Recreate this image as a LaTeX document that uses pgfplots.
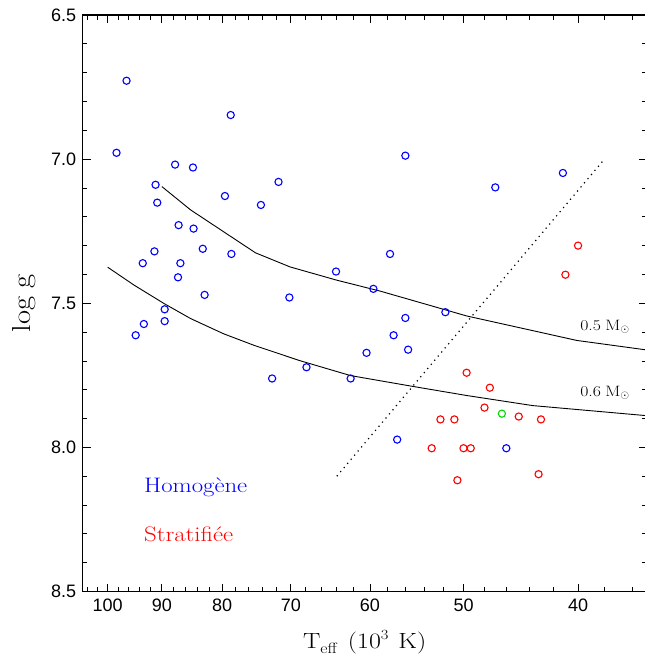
\documentclass[border=0pt]{standalone}
\usepackage{fontspec}
\usepackage{pgfplots}
\pgfplotsset{compat=1.18}
\newfontfamily\hers{lmroman17-regular.otf}[FakeStretch=1.18]
\newfontfamily\ticksf{Liberation Sans}
\definecolor{pblue}{rgb}{0,0,1}
\definecolor{pred}{rgb}{1,0,0}
\definecolor{pgreen}{rgb}{0,0.85,0}
\begin{document}
\begin{tikzpicture}
\begin{axis}[
  name=ax,
  scale only axis,
  width=564pt, height=576.5pt,
  xmode=log, x dir=reverse,
  xmin=35, xmax=105,
  ymin=6.5, ymax=8.5, y dir=reverse,
  xtick={40,50,60,70,80,90,100},
  xticklabels={40,50,60,70,80,90,100},
  minor xtick={36,38,42,44,46,48,52,54,56,58,62,64,66,68,72,74,76,78,82,84,86,88,92,94,96,98,102,104},
  ytick={6.5,7.0,7.5,8.0,8.5},
  yticklabels={6.5,7.0,7.5,8.0,8.5},
  minor ytick={6.6,6.7,6.8,6.9,7.1,7.2,7.3,7.4,7.6,7.7,7.8,7.9,8.1,8.2,8.3,8.4},
  tick align=inside,
  major tick length=8pt, minor tick length=4.5pt,
  every tick/.style={black, line width=0.8pt},
  axis line style={line width=1.6pt},
  /pgf/number format/assume math mode=true,
  tick label style={font=\fontsize{18}{21}\selectfont\ticksf},
  yticklabel style={xshift=-3pt},
  xticklabel style={yshift=-4pt},
  xlabel={T\raisebox{-0.45ex}{\fontsize{15}{17}\selectfont eff}\hspace{0.5em}(10\raisebox{0.95ex}{\fontsize{14}{16}\selectfont 3}\hspace{0.45em}K)},
  ylabel={log\hspace{0.3em}g},
  xlabel style={at={(axis description cs:0.5,-0.0997)}, anchor=base, font=\fontsize{22}{26}\selectfont\hers},
  ylabel style={at={(axis description cs:-0.103,0.5)}, anchor=center, font=\fontsize{26}{30}\selectfont\hers},
  clip=false,
]
% Homogene (blue)
\addplot[only marks, mark=o, mark size=3.6pt, pblue, line width=1.1pt] coordinates {
(96.4,6.728) (98.3,6.978) (78.7,6.847) (87.7,7.019) (84.7,7.029) (91.1,7.089)
(71.7,7.079) (79.6,7.128) (74.2,7.159) (90.8,7.151) (87.1,7.229) (84.6,7.241)
(83.1,7.311) (78.6,7.329) (91.3,7.320) (93.4,7.361) (86.8,7.361) (87.2,7.410)
(82.8,7.471) (70.2,7.480) (64.1,7.390) (59.6,7.450) (89.5,7.521) (93.2,7.572)
(89.5,7.562) (94.7,7.611) (60.4,7.672) (56.0,6.988) (41.2,7.048) (47.0,7.098)
(57.7,7.329) (51.8,7.531) (56.0,7.551) (57.3,7.611) (55.7,7.661) (67.9,7.722)
(62.3,7.761) (72.6,7.761) (56.9,7.973) (46.0,8.003)
};
% Stratifiee (red)
\addplot[only marks, mark=o, mark size=3.6pt, pred, line width=1.1pt] coordinates {
(40.0,7.300) (41.0,7.401) (49.7,7.741) (47.5,7.793) (48.0,7.862) (44.9,7.893)
(43.0,7.903) (52.3,7.903) (50.9,7.903) (53.2,8.003) (50.0,8.003) (49.3,8.003)
(43.2,8.093) (50.6,8.114)
};
% green
\addplot[only marks, mark=o, mark size=3.6pt, pgreen, line width=1.1pt] coordinates {
(46.4,7.883)
};
% 0.5 Msun track
\addplot[black, line width=0.9pt] coordinates {
(90,7.095) (85.1,7.176) (79.8,7.252) (75,7.325) (70.1,7.374) (64,7.42)
(58.8,7.458) (49.7,7.544) (40.1,7.629) (35,7.662)
};
% 0.6 Msun track
\addplot[black, line width=0.9pt] coordinates {
(100,7.375) (95,7.437) (89.6,7.501) (85.1,7.553) (79.8,7.606) (75.2,7.646)
(68.8,7.699) (62.3,7.751) (55.1,7.789) (49.7,7.82) (43.7,7.855) (35,7.89)
};
% dotted line
\addplot[black, line width=1.2pt, dash pattern=on 1.2pt off 4.2pt] coordinates {
(64,8.1) (38,7.0)
};
\node[anchor=base west, font=\fontsize{15}{18}\selectfont\hers] at (axis cs:40.1,7.593) {0.5\hspace{0.3em}M$_\odot$};
\node[anchor=base west, font=\fontsize{15}{18}\selectfont\hers] at (axis cs:40.1,7.822) {0.6\hspace{0.3em}M$_\odot$};
\node[anchor=base west, text=pblue, font=\fontsize{21}{25}\selectfont\hers] at (axis cs:93.8,8.158) {Homogène};
\node[anchor=base west, text=pred, font=\fontsize{21}{25}\selectfont\hers] at (axis cs:93.8,8.327) {Stratifiée};
\end{axis}
\pgfresetboundingbox
\path[use as bounding box] ([xshift=-82.7pt,yshift=-70.5pt]ax.south west) rectangle ([xshift=-2pt,yshift=15pt]ax.north east);
\end{tikzpicture}
\end{document}
